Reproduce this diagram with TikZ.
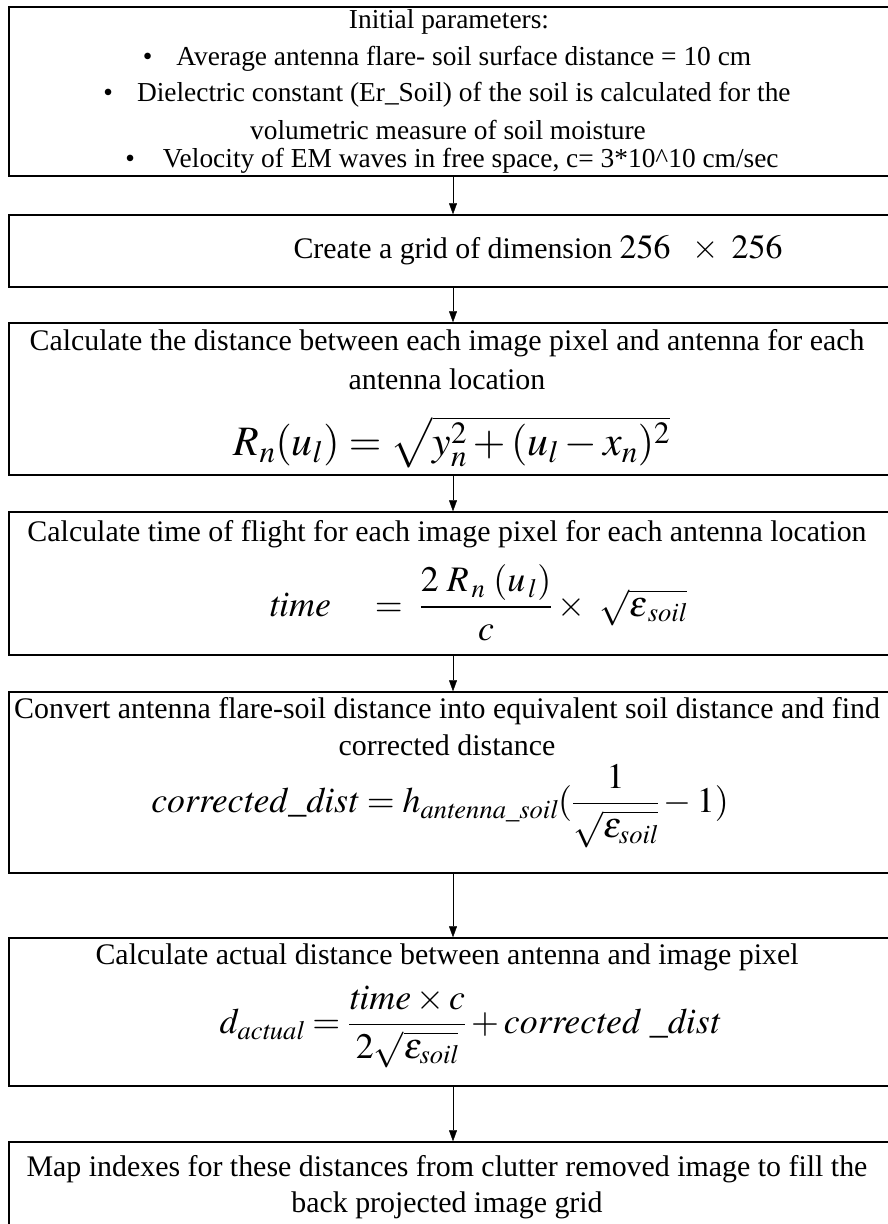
\documentclass[tikz,border=0pt]{standalone}
\usepackage{amsmath}
\usepackage{mathptmx}
\usepackage{fontspec}
\setmainfont{Liberation Serif}
\usetikzlibrary{arrows.meta}
\newcommand{\eps}{\varepsilon}
\begin{document}
\begin{tikzpicture}[x=1bp,y=-1bp,>={Triangle[length=11bp,width=8bp]},
  every node/.style={font=\fontsize{30}{36}\selectfont,inner sep=0pt},
  stepbox/.style={draw,line width=1.5bp,minimum width=888bp},
  param/.style={font=\fontsize{27.5}{32}\selectfont},
  mathbig/.style={font=\fontsize{36}{42}\selectfont}]
\useasboundingbox (0,0) rectangle (888,1224);
% boxes
\node[stepbox,minimum height=169bp] (init) at (453,91.5) {};
\node[stepbox,minimum height=72bp] (grid) at (453,251) {};
\node[stepbox,minimum height=152bp] (range) at (453,399) {};
\node[stepbox,minimum height=143bp] (tof) at (453,583.5) {};
\node[stepbox,minimum height=181bp] (corr) at (453,782.5) {};
\node[stepbox,minimum height=148bp] (dist) at (453,1012) {};
\node[stepbox,minimum height=102bp] (fill) at (453,1193) {};
% texts
\node[param] (t1) at (449,22) {Initial parameters:};
\node[param] (t2) at (447,59) {\textbullet\hspace{24bp}Average antenna flare- soil surface distance = 10 cm};
\node[param] (t3) at (447,95) {\textbullet\hspace{24bp}Dielectric constant (Er\_Soil) of the soil is calculated for the};
\node[param] (t4) at (448,130) {volumetric measure of soil moisture};
\node[param] (t5) at (452,161) {\textbullet\hspace{28bp}Velocity of EM waves in free space, c= 3*10\^{}10 cm/sec};
\node (t6) at (538,250) {Create a grid of dimension {\fontsize{34}{40}\selectfont$256\ \ \times\ 256$}};
\node (t7) at (447,343) {Calculate the distance between each image pixel and antenna for each};
\node (t8) at (447,379) {antenna location};
\node[font=\fontsize{42}{48}\selectfont] (f1) at (452,442) {$R_n(u_l)=\sqrt{y_n^2+(u_l-x_n)^2}$};
\node (t9) at (447,534) {Calculate time of flight for each image pixel for each antenna location};
\node[mathbig] (f2) at (478,603) {$\mathit{time}\quad=\ \dfrac{2\;R_{\,n}\;(u_{\,l})}{c}\times\ \sqrt{\eps_{\,\mathit{soil}}}$};
\node (t10) at (447,711) {Convert antenna flare-soil distance into equivalent soil distance and find};
\node (t11) at (447,745) {corrected distance};
\node[mathbig] (f3) at (440,806) {$\mathit{corrected\_dist}=h_{\mathit{antenna\_soil}}(\dfrac{1}{\sqrt{\eps_{\mathit{soil}}}}-1)$};
\node (t12) at (447,957) {Calculate actual distance between antenna and image pixel};
\node[mathbig] (f4) at (470,1027) {$d_{\mathit{actual}}=\dfrac{\mathit{time}\times c}{2\sqrt{\eps_{\mathit{soil}}}}+\mathit{corrected}\ \_\mathit{dist}$};
\node (t13) at (447,1169) {Map indexes for these distances from clutter removed image to fill the};
\node (t14) at (447,1205) {back projected image grid};
% arrows
\draw[->] (init.south) -- (grid.north);
\draw[->] (grid.south) -- (range.north);
\draw[->] (range.south) -- (tof.north);
\draw[->] (tof.south) -- (corr.north);
\draw[->] (corr.south) -- (dist.north);
\draw[->] (dist.south) -- (fill.north);
\end{tikzpicture}
\end{document}
